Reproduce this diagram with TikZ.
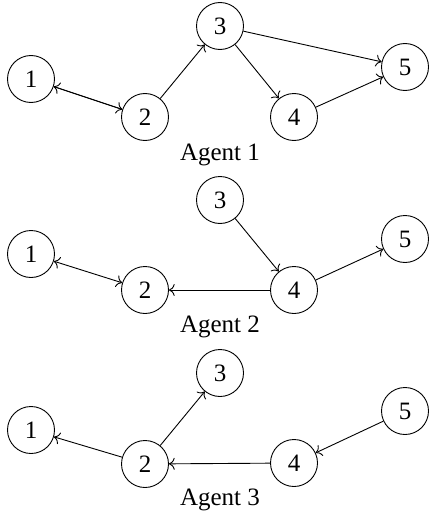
\documentclass[tikz,border=0pt]{standalone}
\usepackage{fontspec}
\setmainfont{Liberation Serif}
\usetikzlibrary{arrows.meta}
\begin{document}
\begin{tikzpicture}[x=1pt,y=-1pt,
  >={To[scale=1.6]},
  agent/.style={circle,draw,line width=0.9pt,minimum size=47pt,inner sep=0pt,font=\fontsize{25}{30}\selectfont},
  lbl/.style={font=\fontsize{25}{30}\selectfont},
  edge/.style={->,line width=0.9pt},
  bedge/.style={<->,line width=0.9pt}]
\useasboundingbox (0,0) rectangle (430,519);
% Agent 1
\node[agent] (a1) at (31,79) {1};
\node[agent] (a2) at (145,117) {2};
\node[agent] (a3) at (220,26) {3};
\node[agent] (a4) at (294,117) {4};
\node[agent] (a5) at (405,67) {5};
\node[lbl] (la) at (220,155) {Agent 1};
\draw[edge] (a1) -- (a2);
\draw[edge] (a2) -- (a1);
\draw[edge] (a2) -- (a3);
\draw[edge] (a3) -- (a4);
\draw[edge] (a3) -- (a5);
\draw[edge] (a4) -- (a5);
% Agent 2
\node[agent] (b1) at (31,254) {1};
\node[agent] (b2) at (145,290) {2};
\node[agent] (b3) at (220,200) {3};
\node[agent] (b4) at (294,290) {4};
\node[agent] (b5) at (405,239) {5};
\node[lbl] (lb) at (220,327) {Agent 2};
\draw[bedge] (b1) -- (b2);
\draw[edge] (b4) -- (b2);
\draw[edge] (b3) -- (b4);
\draw[edge] (b4) -- (b5);
% Agent 3
\node[agent] (c1) at (31,430) {1};
\node[agent] (c2) at (145,464) {2};
\node[agent] (c3) at (220,373) {3};
\node[agent] (c4) at (294,463) {4};
\node[agent] (c5) at (405,411) {5};
\node[lbl] (lc) at (220,500) {Agent 3};
\draw[edge] (c2) -- (c1);
\draw[edge] (c2) -- (c3);
\draw[edge] (c4) -- (c2);
\draw[edge] (c5) -- (c4);
\end{tikzpicture}
\end{document}
